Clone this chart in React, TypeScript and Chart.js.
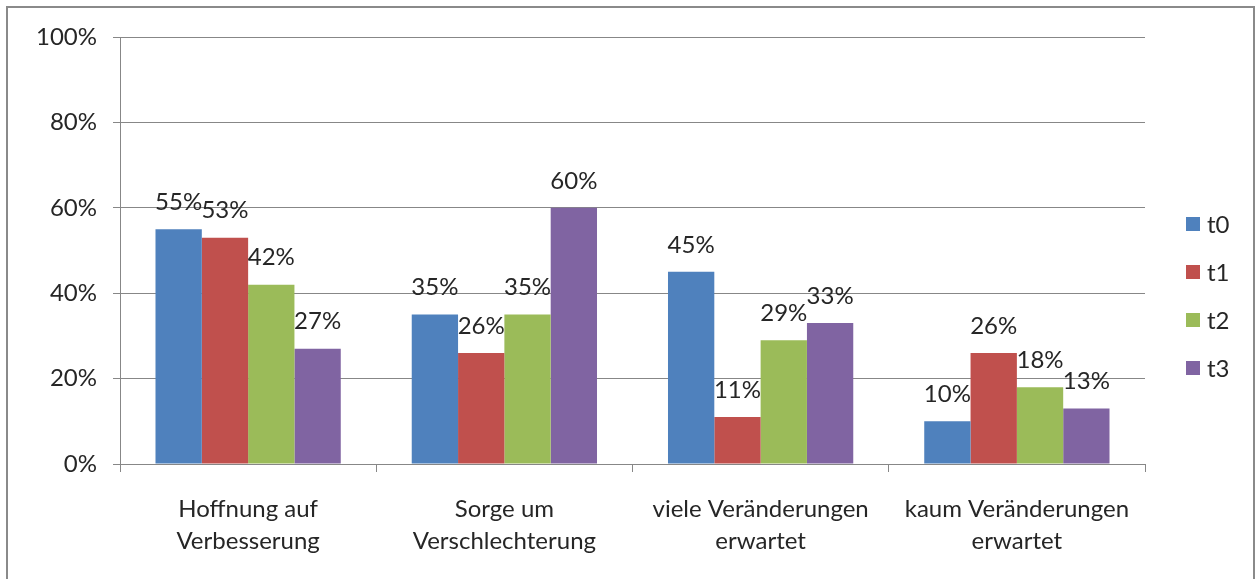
import React, { useEffect, useRef } from "react";
import { Chart, registerables } from "chart.js";

Chart.register(...registerables);

const categories: string[][] = [
  ["Hoffnung auf", "Verbesserung"],
  ["Sorge um", "Verschlechterung"],
  ["viele Veränderungen", "erwartet"],
  ["kaum Veränderungen", "erwartet"],
];
const seriesNames = ["t0", "t1", "t2", "t3"];
const t0 = [55, 35, 45, 10];
const t1 = [53, 26, 11, 26];
const t2 = [42, 35, 29, 18];
const t3 = [27, 60, 33, 13];
const yTicks = [0, 20, 40, 60, 80, 100];
const colors = ["#4F81BD", "#C0504D", "#9BBB59", "#8064A2"];

const FONT = "Lato, 'Open Sans', sans-serif";
const FS = 24;
const TEXT = "#262626";
const GRID = "#878787";

export default function App() {
  const ref = useRef<HTMLCanvasElement | null>(null);
  useEffect(() => {
    if (!ref.current) return;
    const values = [t0, t1, t2, t3];

    const labelPlugin = {
      id: "barLabels",
      afterDatasetsDraw(chart: any) {
        const ctx = chart.ctx;
        ctx.save();
        ctx.font = `${FS}px ${FONT}`;
        ctx.fillStyle = TEXT;
        ctx.textAlign = "center";
        ctx.textBaseline = "middle";
        chart.data.datasets.forEach((ds: any, i: number) => {
          const meta = chart.getDatasetMeta(i);
          meta.data.forEach((bar: any, j: number) => {
            ctx.fillText(`${ds.data[j]}%`, bar.x, bar.y - 27);
          });
        });
        ctx.restore();
      },
    };

    const legendPlugin = {
      id: "customLegend",
      afterDraw(chart: any) {
        const ctx = chart.ctx;
        ctx.save();
        ctx.font = `${FS}px ${FONT}`;
        ctx.textBaseline = "middle";
        ctx.textAlign = "left";
        seriesNames.forEach((name, i) => {
          const cy = 224 + i * 48;
          ctx.fillStyle = colors[i];
          ctx.fillRect(1186, cy - 7, 14, 14);
          ctx.fillStyle = TEXT;
          ctx.fillText(name, 1207, cy + 1);
        });
        ctx.restore();
      },
    };

    const borderPlugin = {
      id: "outerBorder",
      afterDraw(chart: any) {
        const ctx = chart.ctx;
        ctx.save();
        ctx.strokeStyle = "#8a8a8a";
        ctx.lineWidth = 2;
        ctx.strokeRect(7, 7, 1247, 600);
        ctx.restore();
      },
    };

    const chart = new Chart(ref.current, {
      type: "bar",
      data: {
        labels: categories,
        datasets: seriesNames.map((name, i) => ({
          label: name,
          data: values[i],
          backgroundColor: colors[i],
          borderWidth: 0,
          categoryPercentage: 0.723,
          barPercentage: 1,
        })),
      },
      options: {
        responsive: false,
        animation: false,
        layout: { padding: { left: 0, top: 37, right: 111, bottom: 0 } },
        plugins: {
          legend: { display: false },
          tooltip: { enabled: false },
        },
        scales: {
          x: {
            offset: true,
            grid: {
              offset: true,
              drawOnChartArea: false,
              drawTicks: true,
              tickLength: 8,
              color: GRID,
            },
            border: { color: GRID },
            ticks: {
              font: { family: FONT, size: FS, lineHeight: "32px" },
              color: TEXT,
              padding: 21,
              maxRotation: 0,
              autoSkip: false,
            },
            afterFit(scale: any) {
              scale.height = 115;
            },
          },
          y: {
            min: 0,
            max: 100,
            afterBuildTicks(scale: any) {
              scale.ticks = yTicks.map((v) => ({ value: v }));
            },
            grid: { color: GRID, tickLength: 7 },
            border: { color: GRID },
            ticks: {
              font: { family: FONT, size: FS },
              color: TEXT,
              padding: 16,
              callback: (v: any) => `${v}%`,
            },
            afterFit(scale: any) {
              scale.width = 120;
            },
          },
        },
      },
      plugins: [labelPlugin, legendPlugin, borderPlugin],
    });
    return () => chart.destroy();
  }, []);

  return (
    <div style={{ position: "absolute", left: 0, top: 0, width: 1256, height: 579, background: "#fff" }}>
      <canvas ref={ref} width={1256} height={579} style={{ display: "block" }} />
    </div>
  );
}
